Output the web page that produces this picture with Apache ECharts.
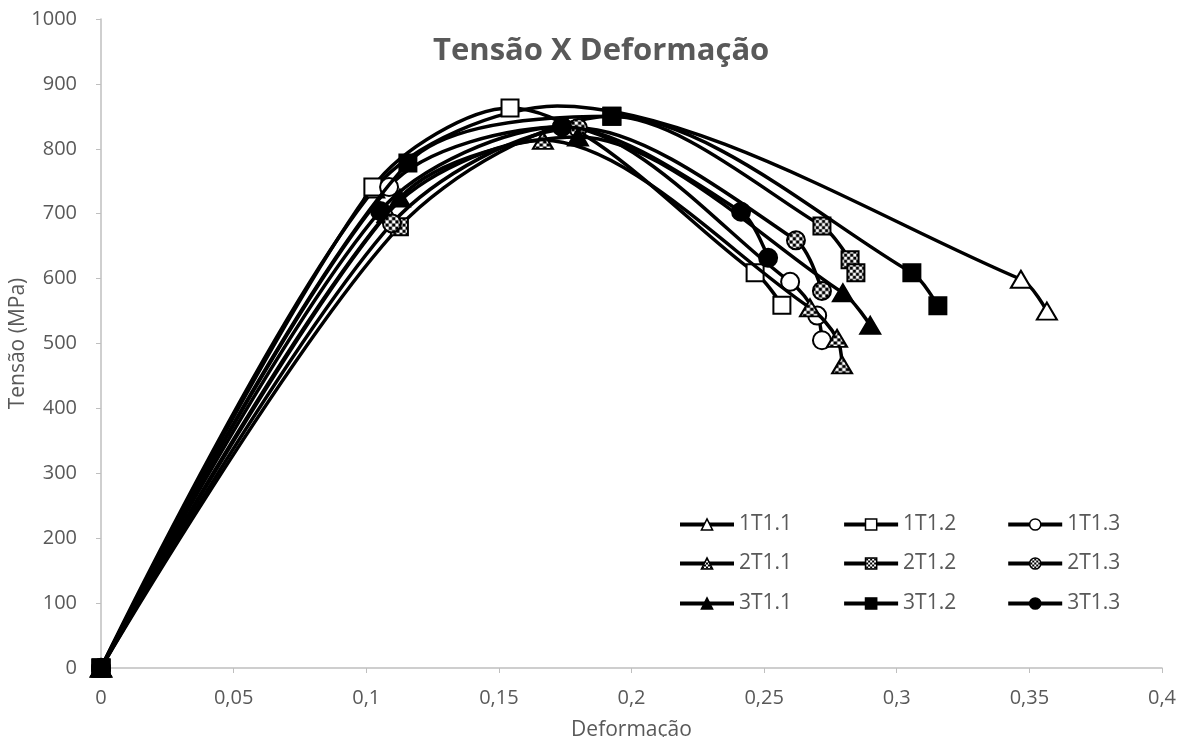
<!DOCTYPE html>
<html>
<head>
<meta charset="utf-8">
<script src="https://cdn.jsdelivr.net/npm/echarts@6/dist/echarts.min.js"></script>
<style>html,body{margin:0;padding:0;background:#fff}#c{width:1184px;height:737px}</style>
</head>
<body>
<div id="c"></div>
<script>
// ---- data ----
var seriesNames = ['1T1.1','1T1.2','1T1.3','2T1.1','2T1.2','2T1.3','3T1.1','3T1.2','3T1.3'];
var d1T1_1 = [[0,0],[0.1030,738],[0.1720,866],[0.3468,599],[0.3566,550]];
var d1T1_2 = [[0,0],[0.1025,741],[0.1542,863],[0.2466,609],[0.2567,559]];
var d1T1_3 = [[0,0],[0.1086,741],[0.1738,834],[0.2598,595],[0.2700,543],[0.2718,505]];
var d2T1_1 = [[0,0],[0.1080,700],[0.1666,813],[0.2673,555],[0.2775,508],[0.2794,467]];
var d2T1_2 = [[0,0],[0.1125,680],[0.1926,850],[0.2718,681],[0.2824,629],[0.2846,609]];
var d2T1_3 = [[0,0],[0.1097,685],[0.1798,832],[0.2620,659],[0.2718,581]];
var d3T1_1 = [[0,0],[0.1127,724],[0.1798,818],[0.2797,578],[0.2900,528]];
var d3T1_2 = [[0,0],[0.1157,778],[0.1926,850],[0.3057,609],[0.3155,558]];
var d3T1_3 = [[0,0],[0.1052,704],[0.1738,834],[0.2413,703],[0.2515,632]];
var xTicks = ['0','0,05','0,1','0,15','0,2','0,25','0,3','0,35','0,4'];
var yTicks = ['0','100','200','300','400','500','600','700','800','900','1000'];
// markers not visible in the reference (covered by other curves)
var hiddenMarkers = {'1T1.1':[2]};

// hatch pattern
function makeCanvas(){
  var pc = document.createElement('canvas');
  pc.width = 4; pc.height = 4;
  var g = pc.getContext('2d');
  g.fillStyle = '#fff'; g.fillRect(0,0,4,4);
  g.fillStyle = '#000';
  g.fillRect(0,0,2,2); g.fillRect(2,2,2,2);
  return pc;
}
var hatchSeries = {image: makeCanvas(), repeat: 'repeat', scaleX: 0.18, scaleY: 0.18};
var hatchLegend = {image: makeCanvas(), repeat: 'repeat'};

var styles = [
  {sym:'triangle', size:[20,17], fill:'#fff'},
  {sym:'rect', size:17, fill:'#fff'},
  {sym:'circle', size:18, fill:'#fff'},
  {sym:'triangle', size:[20,17], fill:'hatch'},
  {sym:'rect', size:17, fill:'hatch'},
  {sym:'circle', size:18, fill:'hatch'},
  {sym:'triangle', size:[20,17], fill:'#000'},
  {sym:'rect', size:17, fill:'#000'},
  {sym:'circle', size:18, fill:'#000'}
];
var allData = [d1T1_1,d1T1_2,d1T1_3,d2T1_1,d2T1_2,d2T1_3,d3T1_1,d3T1_2,d3T1_3];

var series = seriesNames.map(function(n,i){
  var f = styles[i].fill === 'hatch' ? hatchSeries : styles[i].fill;
  var hid = hiddenMarkers[n] || [];
  return {
    name: n, type: 'line',
    data: allData[i].map(function(p, j){
      return hid.indexOf(j) >= 0 ? {value: p, symbol: 'none'} : p;
    }),
    smooth: 0.3,
    symbol: styles[i].sym, symbolSize: styles[i].size,
    showAllSymbol: true,
    lineStyle: {color:'#000', width:3.5},
    itemStyle: {color: f, borderColor:'#000', borderWidth:2},
    emphasis: {disabled:true},
    z: 2 + i * 0.01,
    animation: false
  };
});

var txt = '#595959';
function legendRow(idx, top){
  return {
    data: idx.map(function(i){
      var f = styles[i].fill === 'hatch' ? hatchLegend : styles[i].fill;
      return {name: seriesNames[i], itemStyle:{color:f, borderColor:'#000', borderWidth:1.5}};
    }),
    top: top, left: 673, orient:'horizontal',
    itemWidth: 54, itemHeight: 14, itemGap: 50,
    lineStyle: {color:'#000', width:4},
    textStyle: {color: txt, fontSize: 21, fontFamily:'Open Sans'},
    selectedMode: false
  };
}

var chart = echarts.init(document.getElementById('c'), null, {renderer:'canvas'});
chart.setOption({
  backgroundColor:'#fff',
  animation:false,
  title: {text:'Tensão X Deformação', left:428, top:31,
    textStyle:{color:txt, fontSize:31, fontWeight:'bold', fontFamily:'Open Sans'}},
  grid: {left:101, right:22, top:19, bottom:69, containLabel:false, outerBoundsMode:'none'},
  legend: [
    legendRow([0,1,2], 509),
    legendRow([3,4,5], 548),
    legendRow([6,7,8], 588)
  ],
  xAxis: {
    type:'value', min:0, max:0.4, interval:0.05,
    name:'Deformação', nameLocation:'middle', nameGap:52,
    nameTextStyle:{color:txt, fontSize:21, fontFamily:'Open Sans'},
    axisLine:{show:true, lineStyle:{color:'#bfbfbf', width:1.5}},
    axisTick:{show:true, length:5, lineStyle:{color:'#bfbfbf'}},
    splitLine:{show:false},
    axisLabel:{color:txt, fontSize:20, fontFamily:'Open Sans', margin:20,
      formatter:function(v){ var k = Math.round(v/0.05); return xTicks[k] !== undefined ? xTicks[k] : ''; }}
  },
  yAxis: {
    type:'value', min:0, max:1000, interval:100,
    name:'Tensão (MPa)', nameLocation:'middle', nameGap:72, nameMoveOverlap:false,
    nameTextStyle:{color:txt, fontSize:21, fontFamily:'Open Sans'},
    axisLine:{show:true, lineStyle:{color:'#bfbfbf', width:1.5}},
    axisTick:{show:true, length:5, lineStyle:{color:'#bfbfbf'}},
    splitLine:{show:false},
    axisLabel:{color:txt, fontSize:20, fontFamily:'Open Sans', margin:24,
      formatter:function(v){ var k = Math.round(v/100); return yTicks[k] !== undefined ? yTicks[k] : ''; }}
  },
  series: series
});
</script>
</body>
</html>
